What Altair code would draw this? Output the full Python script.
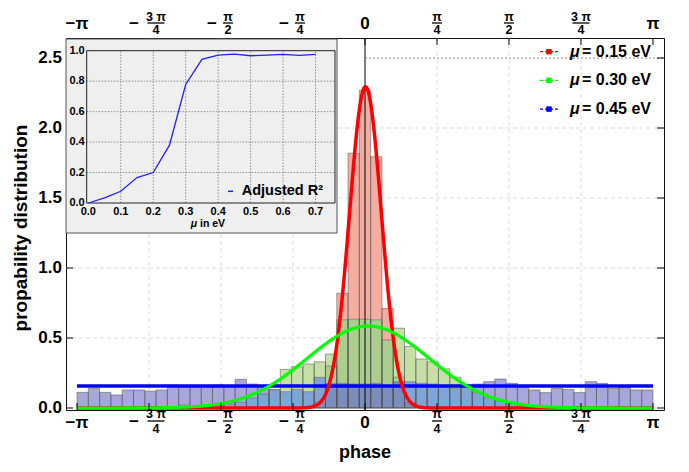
import altair as alt
import numpy as np
import pandas as pd

PI = float(np.pi)
FONT = "Liberation Sans"

# ---------------- data ----------------
bin_index = list(range(-25, 26))          # 51 bins centred on k * 2pi/51
N_BINS = 51

red_heights = [0] * 21 + [0.04, 0.30, 0.82, 1.82, 2.27, 1.795, 0.71, 0.22, 0.04] + [0] * 21

green_heights = ([0, 0, 0, 0, 0, 0, 0, 0, 0.01,
                  0.02, 0.01, 0.02, 0.02, 0.03, 0.04, 0.07, 0.10, 0.13,
                  0.276, 0.295, 0.314, 0.33, 0.385, 0.63, 0.634, 0.634, 0.63, 0.486,
                  0.57, 0.44, 0.35, 0.33, 0.28, 0.22, 0.15, 0.11, 0.07, 0.05, 0.03,
                  0.02, 0.01, 0.01] + [0] * 9)

blue_heights = [0.112, 0.14, 0.112, 0.093, 0.129, 0.129, 0.12, 0.129, 0.164, 0.157,
                0.152, 0.157, 0.164, 0.152, 0.205, 0.171, 0.157, 0.133, 0.117, 0.133,
                0.117, 0.219, 0.176, 0.176, 0.171,
                0.171, 0.176, 0.157, 0.188, 0.188, 0.176, 0.171, 0.148, 0.14, 0.148,
                0.171, 0.188, 0.207, 0.176, 0.148, 0.129, 0.11, 0.14, 0.133, 0.11,
                0.188, 0.176, 0.14, 0.145, 0.129, 0.129]

series_mu = ["0.15", "0.30", "0.45"]
series_colors = ["#ff0000", "#00ff00", "#0000ff"]

# fitted gaussian parameters (amplitude, mean, sigma) for mu=0.15 and mu=0.30, flat level for 0.45
fit_amp = [2.295, 0.585]
fit_mean = [0.005, 0.035]
fit_sigma = [0.1735, 0.665]
flat_level = 0.157

inset_mu = [0.0, 0.05, 0.1, 0.15, 0.2, 0.25, 0.3, 0.35, 0.4, 0.45, 0.5, 0.55, 0.6, 0.65, 0.7]
inset_r2 = [0.0, 0.033, 0.077, 0.167, 0.2, 0.38, 0.778, 0.943, 0.971, 0.978, 0.967, 0.971,
            0.976, 0.969, 0.976]

x_tick_values = [-PI, -3 * PI / 4, -PI / 2, -PI / 4, 0, PI / 4, PI / 2, 3 * PI / 4, PI]
x_tick_sign = ["−", "−", "−", "−", "", "", "", "", ""]
x_tick_numer = ["π", "3 π", "π", "π", "0", "π", "π", "3 π", "π"]
x_tick_denom = ["", "4", "2", "4", "", "4", "2", "4", ""]
y_tick_values = [0, 0.5, 1.0, 1.5, 2.0, 2.5]
grid_x_values = [-3 * PI / 4, -PI / 2, -PI / 4, PI / 4, PI / 2, 3 * PI / 4]
grid_y_values = [0.5, 1.0, 1.5, 2.0]
inset_x_ticks = [0.0, 0.1, 0.2, 0.3, 0.4, 0.5, 0.6, 0.7]
inset_y_ticks = [0.0, 0.2, 0.4, 0.6, 0.8, 1.0]

y_title = "propability distribution"
x_title = "phase"

# ---------------- layout ----------------
W, H = 598, 372
X_MIN, X_MAX = -3.262, 3.262
Y_MIN, Y_MAX = -0.0143, 2.643
xs = alt.Scale(domain=[X_MIN, X_MAX], nice=False, zero=False)
ys = alt.Scale(domain=[Y_MIN, Y_MAX], nice=False, zero=False)

bw = 2 * PI / N_BINS
centers = [k * bw for k in bin_index]

# overlap segments of the three histograms
seg_rows = []
for i, c in enumerate(centers):
    h = {"R": red_heights[i], "G": green_heights[i], "B": blue_heights[i]}
    levels = sorted(set(v for v in h.values() if v > 0))
    lo = 0.0
    for lev in levels:
        combo = "".join(s for s in "RGB" if h[s] >= lev)
        seg_rows.append(dict(x0=c - bw / 2, x1=c + bw / 2, y0=lo, y1=lev, combo=combo))
        lo = lev
seg_df = pd.DataFrame(seg_rows)
combo_domain = ["R", "G", "B", "RG", "RB", "GB", "RGB"]
combo_range = ["#f5ada1", "#c6dfa7", "#a7a7d9", "#abcd8d", "#9a8fc4", "#7fa5d6", "#7b8dbd"]

out_rows = []
for name, hs in zip(series_mu, [red_heights, green_heights, blue_heights]):
    for c, v in zip(centers, hs):
        if v > 0:
            out_rows.append(dict(x0=c - bw / 2, x1=c + bw / 2, y0=0.0, y1=v, s=name))
out_df = pd.DataFrame(out_rows)

xgrid = np.linspace(-PI, PI, 801)
curve_dfs = []
for a, m, s in zip(fit_amp, fit_mean, fit_sigma):
    curve_dfs.append(pd.DataFrame({"x": xgrid, "y": a * np.exp(-(xgrid - m) ** 2 / (2 * s * s))}))
flat_df = pd.DataFrame({"x": [-PI, PI], "y": [flat_level, flat_level]})

one = pd.DataFrame({"a": [0]})
layers = []


def X(f):
    return alt.X(f, scale=xs, axis=None)


def Y(f):
    return alt.Y(f, scale=ys, axis=None)


layers.append(alt.Chart(pd.DataFrame({"v": grid_x_values})).mark_rule(
    color="#d2d2d2", strokeDash=[4, 3], strokeWidth=0.8).encode(x=X("v:Q")))
layers.append(alt.Chart(pd.DataFrame({"v": grid_y_values})).mark_rule(
    color="#d2d2d2", strokeDash=[4, 3], strokeWidth=0.8).encode(y=Y("v:Q")))

layers.append(alt.Chart(seg_df).mark_rect(strokeWidth=0).encode(
    x=X("x0:Q"), x2="x1:Q", y=Y("y0:Q"), y2="y1:Q",
    fill=alt.Fill("combo:N", scale=alt.Scale(domain=combo_domain, range=combo_range), legend=None)))

layers.append(alt.Chart(out_df).mark_rect(fillOpacity=0, stroke="#555555", strokeWidth=0.7,
                                          strokeOpacity=0.75).encode(
    x=X("x0:Q"), x2="x1:Q", y=Y("y0:Q"), y2="y1:Q"))

# vertical axis line at phase 0
layers.append(alt.Chart(pd.DataFrame({"v": [0.0]})).mark_rule(color="black", strokeWidth=1).encode(
    x=X("v:Q")))

# dotted line at 2.5
layers.append(alt.Chart(pd.DataFrame({"x0": [0.0], "x1": [X_MAX], "y": [2.5]})).mark_rule(
    color="#777777", strokeDash=[2, 2], strokeWidth=0.9).encode(
    x=X("x0:Q"), x2="x1:Q", y=Y("y:Q")))

# curves: blue, red, green
layers.append(alt.Chart(flat_df).mark_line(color=series_colors[2], strokeWidth=3.5).encode(
    x=X("x:Q"), y=Y("y:Q")))
layers.append(alt.Chart(curve_dfs[0]).mark_line(color=series_colors[0], strokeWidth=3.5).encode(
    x=X("x:Q"), y=Y("y:Q")))
layers.append(alt.Chart(curve_dfs[1]).mark_line(color=series_colors[1], strokeWidth=3.2).encode(
    x=X("x:Q"), y=Y("y:Q")))

# frame ticks
xt = pd.DataFrame({"v": x_tick_values})
yt = pd.DataFrame({"v": y_tick_values, "t": [f"{v:.1f}" for v in y_tick_values]})
for y1, y2 in [(H, H - 7), (0, 7)]:
    layers.append(alt.Chart(xt).mark_rule(color="black", strokeWidth=1).encode(
        x=X("v:Q"), y=alt.value(y1), y2=alt.value(y2)))
for x1, x2 in [(0, 7), (W, W - 7)]:
    layers.append(alt.Chart(yt).mark_rule(color="black", strokeWidth=1).encode(
        y=Y("v:Q"), x=alt.value(x1), x2=alt.value(x2)))

# y tick labels and axis titles
layers.append(alt.Chart(yt).mark_text(font=FONT, fontSize=17, fontWeight="bold", color="black",
                                      align="right", baseline="middle").encode(
    x=alt.value(-4), y=Y("v:Q"), text="t:N"))
tt = pd.DataFrame({"yt": [y_title], "xt": [x_title]})
layers.append(alt.Chart(tt).mark_text(font=FONT, fontSize=19, fontWeight="bold", color="black",
                                      angle=270, baseline="middle").encode(
    x=alt.value(-45), y=alt.value(190), text="yt:N"))
layers.append(alt.Chart(tt).mark_text(font=FONT, fontSize=18, fontWeight="bold", color="black",
                                      baseline="middle").encode(
    x=alt.value(W / 2), y=alt.value(415), text="xt:N"))

# x tick labels (bottom and top), with stacked fractions
rows_pos = {"bottom": dict(single=385, numer=376, bar=383, denom=391),
            "top": dict(single=-14, numer=-21, bar=-15, denom=-8)}
for side, pos in rows_pos.items():
    for v, sg, nu, de in zip(x_tick_values, x_tick_sign, x_tick_numer, x_tick_denom):
        d = pd.DataFrame({"v": [v], "sg": [sg], "nu": [nu], "de": [de], "full": [sg + nu]})
        if de == "":
            layers.append(alt.Chart(d).mark_text(font=FONT, fontSize=17, fontWeight="bold",
                                                 color="black", baseline="middle").encode(
                x=X("v:Q"), y=alt.value(pos["single"]), text="full:N"))
            continue
        wide = "3" in nu
        shift = 7 if sg else 0
        wbar = 17 if wide else 10
        layers.append(alt.Chart(d).mark_text(font=FONT, fontSize=12.5, fontWeight="bold",
                                             color="black", baseline="middle", dx=shift).encode(
            x=X("v:Q"), y=alt.value(pos["numer"]), text="nu:N"))
        layers.append(alt.Chart(d).mark_text(font=FONT, fontSize=12.5, fontWeight="bold",
                                             color="black", baseline="middle", dx=shift).encode(
            x=X("v:Q"), y=alt.value(pos["denom"]), text="de:N"))
        layers.append(alt.Chart(d).mark_rule(color="black", strokeWidth=1.3,
                                             xOffset=shift - wbar / 2, x2Offset=shift + wbar / 2).encode(
            x=X("v:Q"), x2="v:Q", y=alt.value(pos["bar"])))
        if sg:
            layers.append(alt.Chart(d).mark_text(font=FONT, fontSize=17, fontWeight="bold",
                                                 color="black", baseline="middle",
                                                 dx=-15 if wide else -9).encode(
                x=X("v:Q"), y=alt.value(pos["bar"] + 1), text="sg:N"))

# main legend (top right)
for i, (mu, col) in enumerate(zip(series_mu, series_colors)):
    ry = 13.7 + i * 28.7
    d = pd.DataFrame({"mu": ["μ"], "rest": ["= " + mu + " eV"]})
    layers.append(alt.Chart(d).mark_rule(color=col, strokeDash=[3, 2], strokeWidth=1.2).encode(
        x=alt.value(474), x2=alt.value(494), y=alt.value(ry)))
    layers.append(alt.Chart(d).mark_square(color=col, size=30, opacity=1).encode(
        x=alt.value(483), y=alt.value(ry)))
    layers.append(alt.Chart(d).mark_text(font=FONT, fontSize=16, fontWeight="bold", fontStyle="italic",
                                         color="black", align="left", baseline="middle").encode(
        x=alt.value(504), y=alt.value(ry), text="mu:N"))
    layers.append(alt.Chart(d).mark_text(font=FONT, fontSize=16, fontWeight="bold",
                                         color="black", align="left", baseline="middle").encode(
        x=alt.value(516), y=alt.value(ry), text="rest:N"))

main = alt.layer(*layers)

# ---------------- inset ----------------
IX0, IX1 = 20.7, 269.0
IY0, IY1 = 165.0, 12.7
ixs = alt.Scale(domain=[-0.005, 0.76], range=[IX0, IX1], nice=False, zero=False)
iys = alt.Scale(domain=[0, 1], range=[IY0, IY1], nice=False, zero=False)

il = []
il.append(alt.Chart(one).mark_rect(fill="#efefef", stroke="#555555", strokeWidth=1).encode(
    x=alt.value(0), x2=alt.value(271), y=alt.value(1), y2=alt.value(195)))
gvx = pd.DataFrame({"v": inset_x_ticks[1:], "y0": 0.0, "y1": 1.0})
gvy = pd.DataFrame({"v": inset_y_ticks[1:-1], "x0": -0.005, "x1": 0.76})
il.append(alt.Chart(gvx).mark_rule(color="#777777", strokeDash=[1.5, 1.5], strokeWidth=0.8).encode(
    x=alt.X("v:Q", scale=ixs, axis=None), y=alt.Y("y0:Q", scale=iys, axis=None), y2="y1:Q"))
il.append(alt.Chart(gvy).mark_rule(color="#777777", strokeDash=[1.5, 1.5], strokeWidth=0.8).encode(
    y=alt.Y("v:Q", scale=iys, axis=None), x=alt.X("x0:Q", scale=ixs, axis=None), x2="x1:Q"))
il.append(alt.Chart(one).mark_rect(fillOpacity=0, stroke="#222222", strokeWidth=1).encode(
    x=alt.value(IX0), x2=alt.value(IX1), y=alt.value(IY1), y2=alt.value(IY0)))
il.append(alt.Chart(pd.DataFrame({"mu": inset_mu, "r2": inset_r2})).mark_line(
    color="#2020ff", strokeWidth=1.3).encode(
    x=alt.X("mu:Q", scale=ixs, axis=None), y=alt.Y("r2:Q", scale=iys, axis=None)))
iyl = pd.DataFrame({"v": inset_y_ticks, "t": [f"{v:.1f}" for v in inset_y_ticks]})
il.append(alt.Chart(iyl).mark_text(font=FONT, fontSize=11, fontWeight="bold", color="black",
                                   align="right", baseline="middle").encode(
    x=alt.value(IX0 - 2), y=alt.Y("v:Q", scale=iys, axis=None), text="t:N"))
ixl = pd.DataFrame({"v": inset_x_ticks, "t": [f"{v:.1f}" for v in inset_x_ticks]})
il.append(alt.Chart(ixl).mark_text(font=FONT, fontSize=11, fontWeight="bold", color="black",
                                   baseline="middle").encode(
    x=alt.X("v:Q", scale=ixs, axis=None), y=alt.value(173.7), text="t:N"))
dt = pd.DataFrame({"mu": ["μ"], "rest": ["in eV"], "leg": ["Adjusted R²"]})
il.append(alt.Chart(dt).mark_text(font=FONT, fontSize=10.5, fontWeight="bold", fontStyle="italic",
                                  color="black", baseline="middle").encode(
    x=alt.value(128), y=alt.value(185.5), text="mu:N"))
il.append(alt.Chart(dt).mark_text(font=FONT, fontSize=10.5, fontWeight="bold", color="black",
                                  align="left", baseline="middle").encode(
    x=alt.value(134), y=alt.value(185.5), text="rest:N"))
il.append(alt.Chart(dt).mark_rule(color="#2020ff", strokeWidth=1.5).encode(
    x=alt.value(162), x2=alt.value(167), y=alt.value(153.3)))
il.append(alt.Chart(dt).mark_text(font=FONT, fontSize=14.5, fontWeight="bold", color="black",
                                  align="left", baseline="middle").encode(
    x=alt.value(175.7), y=alt.value(153.3), text="leg:N"))

inset = alt.layer(*il)

chart = alt.layer(main, inset).resolve_scale(x="independent", y="independent").properties(
    width=W, height=H,
    autosize=alt.AutoSizeParams(type="none"),
    padding={"left": 58, "top": 30, "right": 17, "bottom": 54},
    background="white",
).configure_view(stroke="#111111", strokeWidth=1)

chart.save("out.html", embed_options={"renderer": "svg", "actions": False})
